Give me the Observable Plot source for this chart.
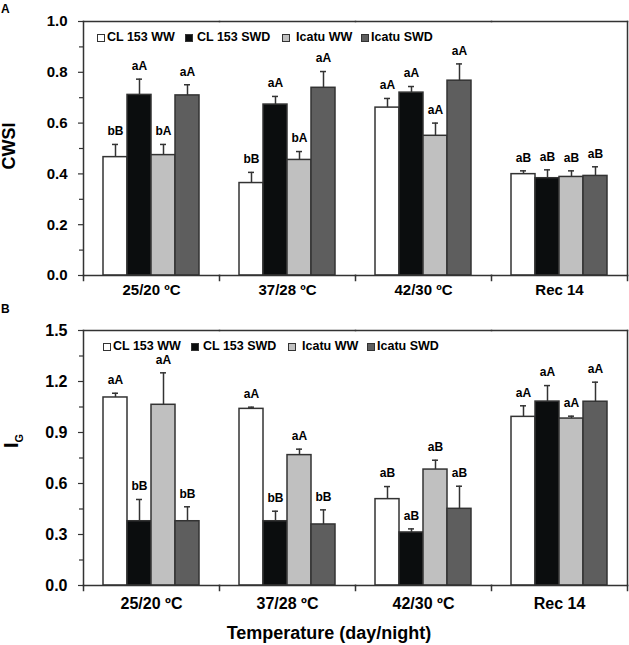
<!DOCTYPE html>
<html>
<head>
<meta charset="utf-8">
<script src="https://cdn.jsdelivr.net/npm/d3@7"></script>
<script src="https://cdn.jsdelivr.net/npm/@observablehq/plot@0.6"></script>
<style>
  html, body { margin: 0; padding: 0; background: #fff; }
  #wrap { position: relative; width: 629px; height: 645px; font-family: "Liberation Sans", Arial, sans-serif; font-weight: bold; color: #000; }
  .panel { position: absolute; left: 0; }
  .abs { position: absolute; white-space: nowrap; }
  .rot { transform: translate(-50%, -50%) rotate(-90deg); }
  .legend { position: absolute; width: 360px; height: 14px; font-size: 12.5px; white-space: nowrap; }
  .legend .sw { position: absolute; top: 3px; width: 6px; height: 6px; border: 1px solid #333; }
  .legend .lab { position: absolute; top: -1px; white-space: nowrap; }
</style>
</head>
<body>
<div id="wrap">
  <div class="panel" id="panelA" style="top:0"></div>
  <div class="panel" id="panelB" style="top:300px"></div>
</div>
<script>
// ---- data ----
const categories = ["25/20 ºC", "37/28 ºC", "42/30 ºC", "Rec 14"];
const series = ["CL 153 WW", "CL 153 SWD", "Icatu WW", "Icatu SWD"];
const seriesColors = ["#ffffff", "#0b0d0e", "#c0c0c0", "#5e5e5e"];

// Panel A: CWSI (rows = categories, columns = series)
const cwsiValues = [
  [0.466, 0.711, 0.474, 0.709],
  [0.364, 0.673, 0.455, 0.739],
  [0.661, 0.720, 0.550, 0.767],
  [0.399, 0.383, 0.388, 0.392]
];
const cwsiErrors = [
  [0.050, 0.062, 0.042, 0.042],
  [0.042, 0.032, 0.033, 0.064],
  [0.036, 0.024, 0.050, 0.066],
  [0.013, 0.033, 0.024, 0.036]
];
const cwsiLetters = [
  ["bB", "aA", "bA", "aA"],
  ["bB", "aA", "bA", "aA"],
  ["aA", "aA", "aA", "aA"],
  ["aB", "aB", "aB", "aB"]
];
const cwsiTicks = [0, 0.2, 0.4, 0.6, 0.8, 1.0];
const cwsiMinorTicks = [0.1, 0.3, 0.5, 0.7, 0.9];

// Panel B: IG
const igValues = [
  [1.106, 0.378, 1.063, 0.378],
  [1.039, 0.378, 0.767, 0.359],
  [0.508, 0.312, 0.682, 0.451],
  [0.992, 1.082, 0.982, 1.081]
];
const igErrors = [
  [0.025, 0.128, 0.188, 0.085],
  [0.010, 0.059, 0.035, 0.086],
  [0.074, 0.021, 0.055, 0.133],
  [0.065, 0.094, 0.014, 0.115]
];
const igLetters = [
  ["aA", "bB", "aA", "bB"],
  ["aA", "bB", "aA", "bB"],
  ["aB", "aB", "aB", "aB"],
  ["aA", "aA", "aA", "aA"]
];
const igTicks = [0, 0.3, 0.6, 0.9, 1.2, 1.5];
const igMinorTicks = [0.15, 0.45, 0.75, 1.05, 1.35];

const xTitle = "Temperature (day/night)";

// ---- drawing ----
const FONT = '"Liberation Sans", Arial, sans-serif';
const INK = "#333";

function makeRows(values, errors, letters) {
  const rows = [];
  categories.forEach((c, i) => series.forEach((s, j) => rows.push({
    cat: c, ser: s, value: values[i][j], err: errors[i][j],
    top: values[i][j] + errors[i][j], letter: letters[i][j]
  })));
  return rows;
}

function panel({rows, domain, ticks, minorTicks, height, marginTop, marginBottom, tickFont, catFont, catPad}) {
  const innerH = height - marginTop - marginBottom;
  return Plot.plot({
    width: 629, height, marginLeft: 82, marginRight: 1, marginTop, marginBottom,
    style: {background: "transparent", fontFamily: FONT, fontWeight: "bold", color: "#000", overflow: "visible"},
    fx: {domain: categories, padding: 0, label: null},
    x: {domain: series, paddingInner: 0, paddingOuter: 0.73, axis: null},
    y: {domain, label: null},
    color: {domain: series, range: seriesColors},
    marks: [
      Plot.barY(rows, {fx: "cat", x: "ser", y: "value", fill: "ser", stroke: INK, strokeWidth: 1.5}),
      Plot.ruleX(rows, {fx: "cat", x: "ser", y1: "value", y2: "top", stroke: INK, strokeWidth: 1.5}),
      Plot.tickY(rows, {fx: "cat", x: "ser", y: "top", stroke: INK, strokeWidth: 1.5, insetLeft: 9, insetRight: 9}),
      Plot.text(rows, {fx: "cat", x: "ser", y: "top", text: "letter", dy: -13, fontSize: 12, fontWeight: "bold", fill: "#000"}),
      Plot.frame({anchor: "top", stroke: INK, strokeWidth: 1.5}),
      Plot.frame({anchor: "bottom", stroke: INK, strokeWidth: 1.5}),
      Plot.frame({anchor: "left", facetAnchor: "left", stroke: INK, strokeWidth: 1.5}),
      Plot.frame({anchor: "right", facetAnchor: "right", stroke: INK, strokeWidth: 1.5}),
      Plot.frame({anchor: "left", insetTop: innerH, insetBottom: -5, stroke: INK, strokeWidth: 1.5}),
      Plot.frame({anchor: "right", facetAnchor: "right", insetTop: innerH, insetBottom: -5, stroke: INK, strokeWidth: 1.5}),
      Plot.axisY({ticks: minorTicks, tickSize: 4, tickFormat: () => "", label: null, stroke: INK, strokeWidth: 1.2}),
      Plot.axisY({ticks, tickSize: 5, tickPadding: 11, tickFormat: d => d.toFixed(1), label: null,
                  fontSize: tickFont, fontWeight: "bold", fill: "#000", stroke: INK, strokeWidth: 1.2}),
      Plot.axisFx({anchor: "bottom", tickSize: 0, tickPadding: catPad, label: null, fontSize: catFont, fontWeight: "bold", fill: "#000"})
    ]
  });
}

const chartA = panel({
  rows: makeRows(cwsiValues, cwsiErrors, cwsiLetters), domain: [0, 1.0],
  ticks: cwsiTicks, minorTicks: cwsiMinorTicks,
  height: 300, marginTop: 21, marginBottom: 25, tickFont: 15, catFont: 15, catPad: 9
});
const chartB = panel({
  rows: makeRows(igValues, igErrors, igLetters), domain: [0, 1.5],
  ticks: igTicks, minorTicks: igMinorTicks,
  height: 345, marginTop: 30, marginBottom: 60, tickFont: 16, catFont: 16, catPad: 12
});
document.getElementById("panelA").appendChild(chartA);
document.getElementById("panelB").appendChild(chartB);

// ---- text elements (labels, legends) ----
const wrap = document.getElementById("wrap");
function addDiv(html, css, cls = "abs") {
  const d = document.createElement("div");
  d.className = cls;
  d.innerHTML = html;
  d.style.cssText = css;
  wrap.appendChild(d);
  return d;
}
addDiv("A", "left:1px;top:2px;font-size:12px;");
addDiv("B", "left:1px;top:302px;font-size:12px;");
addDiv("CWSI", "left:9px;top:146px;font-size:18px;", "abs rot");
addDiv('I<span style="font-size:11px;position:relative;top:5px;">G</span>', "left:11px;top:441px;font-size:20px;", "abs rot");
addDiv(xTitle, "left:329px;top:633px;font-size:18px;transform:translate(-50%,-50%);");

const legendSwatchX = [0, 88, 185, 264];
const legendTextX = [10, 100, 199, 274];
function addLegend(left, top) {
  const lg = document.createElement("div");
  lg.className = "legend";
  lg.style.left = left + "px";
  lg.style.top = top + "px";
  series.forEach((s, i) => {
    const sw = document.createElement("div");
    sw.className = "sw";
    sw.style.left = legendSwatchX[i] + "px";
    sw.style.background = seriesColors[i];
    lg.appendChild(sw);
    const t = document.createElement("div");
    t.className = "lab";
    t.style.left = legendTextX[i] + "px";
    t.textContent = s;
    lg.appendChild(t);
  });
  wrap.appendChild(lg);
}
addLegend(97, 31);
addLegend(103, 340);
</script>
</body>
</html>
